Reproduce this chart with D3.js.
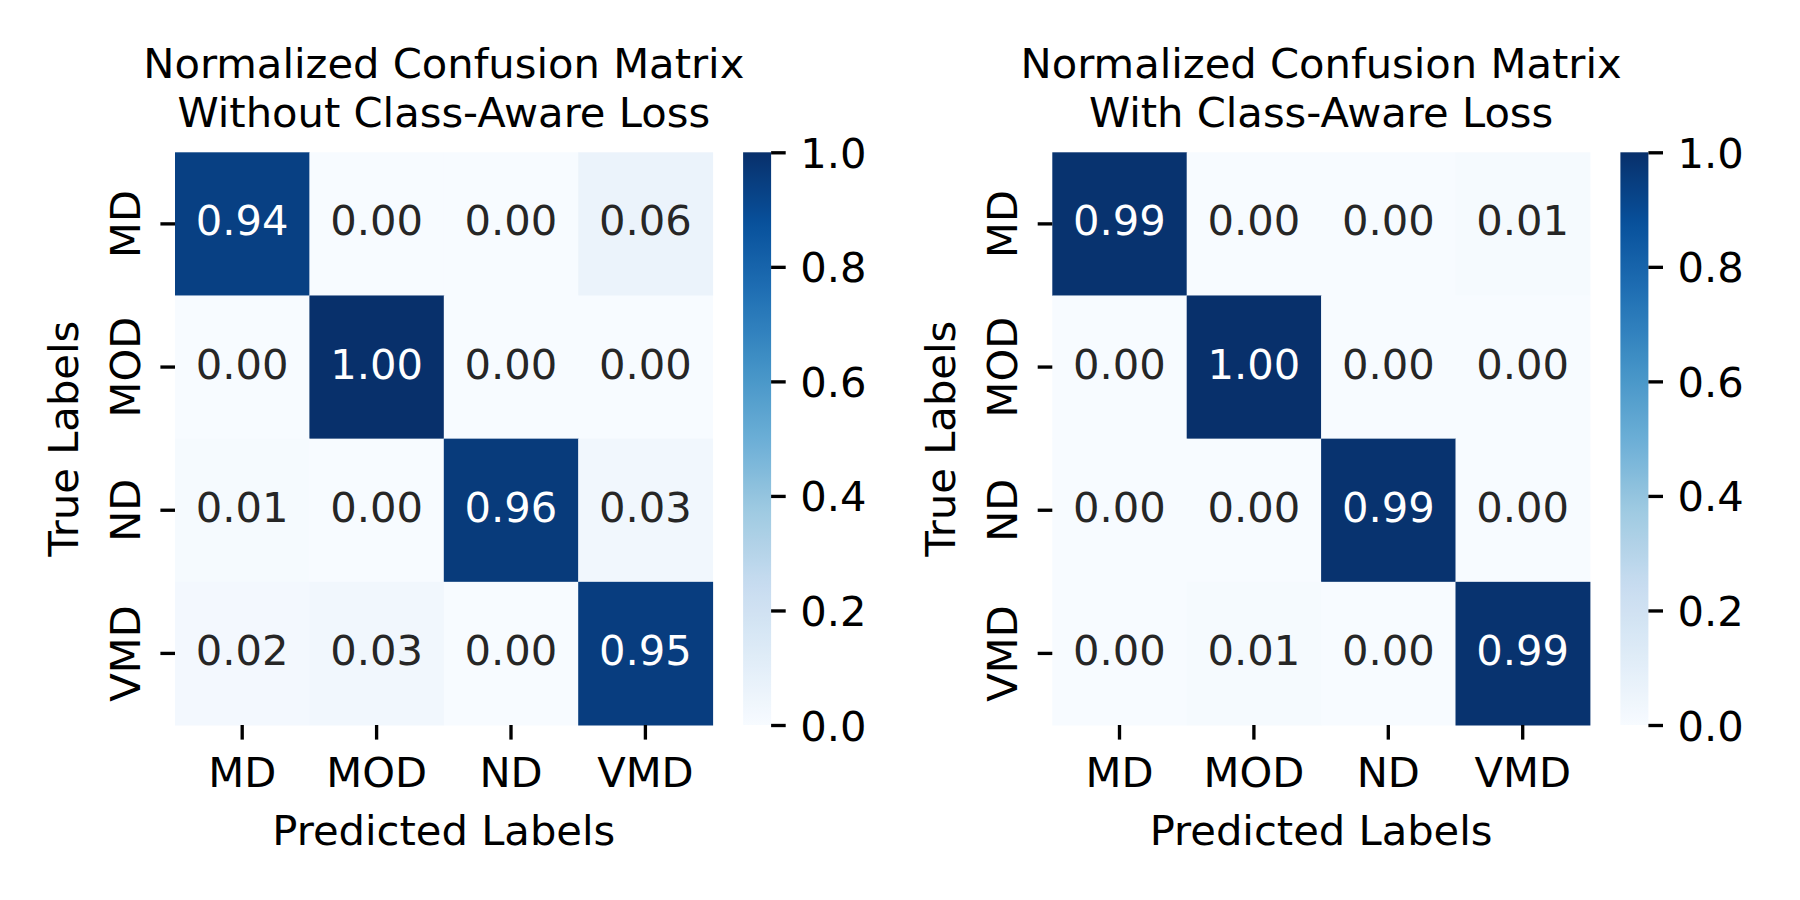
<!DOCTYPE html>
<html>
<head>
<meta charset="utf-8">
<script src="https://cdn.jsdelivr.net/npm/d3@7"></script>
<style>
  body { margin: 0; background: #fff; }
  text { font-family: "DejaVu Sans", sans-serif; }
</style>
</head>
<body>
<svg id="chart"></svg>
<script>
// class labels, same for both axes
const classes = ['MD', 'MOD', 'ND', 'VMD']

// normalized confusion matrices (rows = true, cols = predicted)
const withoutLoss = [
  [0.94, 0.00, 0.00, 0.06],
  [0.00, 1.00, 0.00, 0.00],
  [0.01, 0.00, 0.96, 0.03],
  [0.02, 0.03, 0.00, 0.95]
]
const withLoss = [
  [0.99, 0.00, 0.00, 0.01],
  [0.00, 1.00, 0.00, 0.00],
  [0.00, 0.00, 0.99, 0.00],
  [0.00, 0.01, 0.00, 0.99]
]

const titlesLeft = ['Normalized Confusion Matrix', 'Without Class-Aware Loss']
const titlesRight = ['Normalized Confusion Matrix', 'With Class-Aware Loss']
const cbarTicks = [0, 0.2, 0.4, 0.6, 0.8, 1.0]

// matplotlib "Blues" (linear through the colorbrewer stops)
const blues = ['#f7fbff','#deebf7','#c6dbef','#9ecae1','#6baed6','#4292c6','#2171b5','#08519c','#08306b']

const W = 1800, H = 900
const FS = 41.67, TICK = 14.6, TW = 3.33

let svg = d3.select('svg#chart').attr('width', W).attr('height', H)

let color = d3.scaleLinear()
  .domain(d3.range(blues.length).map(i => i / (blues.length - 1)))
  .range(blues)
  .interpolate(d3.interpolateRgb)

function textColor(v) {
  let c = d3.rgb(color(v))
  let lin = [c.r, c.g, c.b].map(x => {
    x = x / 255
    return x <= 0.03928 ? x / 12.92 : Math.pow((x + 0.055) / 1.055, 2.4)
  })
  let lum = 0.2126 * lin[0] + 0.7152 * lin[1] + 0.0722 * lin[2]
  return lum > 0.408 ? '#262626' : '#ffffff'
}

// gradient for the colorbars
let grad = svg.append('defs').append('linearGradient')
  .attr('id', 'bluesGrad')
  .attr('x1', 0).attr('y1', 1).attr('x2', 0).attr('y2', 0)
grad.selectAll('stop').data(d3.range(0, 1.0001, 0.02))
  .enter().append('stop')
  .attr('offset', d => d)
  .attr('stop-color', d => color(d))

function drawPanel(matrix, titles, left) {
  let top = 152.3, width = 537.6, height = 572.7
  let g = svg.append('g')

  let x = d3.scaleBand().domain(classes).range([left, left + width])
  let y = d3.scaleBand().domain(classes).range([top, top + height])

  let cells = []
  matrix.forEach((row, i) => row.forEach((v, j) => cells.push({r: classes[i], c: classes[j], v: v})))

  g.selectAll('rect.cell').data(cells).enter().append('rect')
    .attr('class', 'cell')
    .attr('x', d => x(d.c))
    .attr('y', d => y(d.r))
    .attr('width', x.bandwidth() + 0.5)
    .attr('height', y.bandwidth() + 0.5)
    .attr('fill', d => color(d.v))

  g.selectAll('text.annot').data(cells).enter().append('text')
    .attr('class', 'annot')
    .attr('x', d => x(d.c) + x.bandwidth() / 2)
    .attr('y', d => y(d.r) + y.bandwidth() / 2 + 11.5)
    .attr('text-anchor', 'middle')
    .attr('font-size', FS)
    .attr('fill', d => textColor(d.v))
    .text(d => d.v.toFixed(2))

  // x axis
  let xa = g.append('g')
    .attr('transform', `translate(0,${top + height})`)
    .call(d3.axisBottom(x).tickSize(TICK).tickPadding(0))
  xa.select('.domain').remove()
  xa.selectAll('line').attr('stroke', '#000').attr('stroke-width', TW)
  xa.selectAll('text').attr('y', 62).attr('dy', null)
    .attr('font-size', FS).attr('fill', '#000')
    .attr('font-family', '"DejaVu Sans", sans-serif')

  // y axis, rotated labels
  let ya = g.append('g')
    .attr('transform', `translate(${left},0)`)
    .call(d3.axisLeft(y).tickSize(TICK))
  ya.select('.domain').remove()
  ya.selectAll('line').attr('stroke', '#000').attr('stroke-width', TW)
  ya.selectAll('text')
    .attr('x', null).attr('dy', null)
    .attr('transform', 'translate(-35,0) rotate(-90)')
    .attr('text-anchor', 'middle')
    .attr('font-size', FS).attr('fill', '#000')
    .attr('font-family', '"DejaVu Sans", sans-serif')

  // axis titles
  g.append('text')
    .attr('x', left + width / 2).attr('y', 845)
    .attr('text-anchor', 'middle').attr('font-size', FS)
    .text('Predicted Labels')
  g.append('text')
    .attr('transform', `translate(${left - 97},${top + height / 2}) rotate(-90)`)
    .attr('text-anchor', 'middle').attr('font-size', FS)
    .text('True Labels')

  // title, two lines
  g.selectAll('text.title').data(titles).enter().append('text')
    .attr('class', 'title')
    .attr('x', left + width / 2)
    .attr('y', (d, i) => 77.7 + i * 49)
    .attr('text-anchor', 'middle').attr('font-size', FS)
    .text(d => d)

  // colorbar
  let cbX = left + width + 30.5, cbW = 28
  let cy = d3.scaleLinear().domain([0, 1]).range([top + height, top])
  g.append('rect')
    .attr('x', cbX).attr('y', cy(1))
    .attr('width', cbW).attr('height', cy(0) - cy(1))
    .attr('fill', 'url(#bluesGrad)')
  let ca = g.append('g')
    .attr('transform', `translate(${cbX + cbW},0)`)
    .call(d3.axisRight(cy).tickValues(cbarTicks).tickFormat(d3.format('.1f')).tickSize(TICK).tickPadding(14.6))
  ca.select('.domain').remove()
  ca.selectAll('line').attr('stroke', '#000').attr('stroke-width', TW)
  ca.selectAll('text').attr('dy', '0.36em')
    .attr('font-size', FS).attr('fill', '#000')
    .attr('font-family', '"DejaVu Sans", sans-serif')
}

drawPanel(withoutLoss, titlesLeft, 175)
drawPanel(withLoss, titlesRight, 1052.3)
</script>
</body>
</html>
